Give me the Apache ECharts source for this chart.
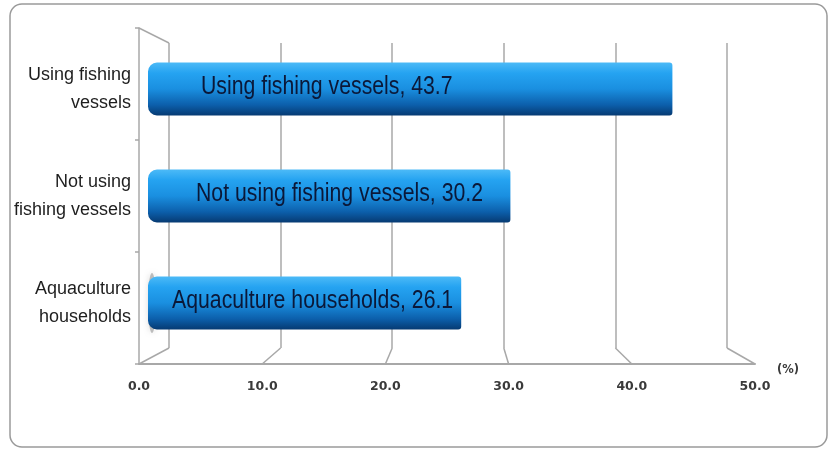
<!DOCTYPE html>
<html>
<head>
<meta charset="utf-8">
<script src="https://cdn.jsdelivr.net/npm/echarts@6/dist/echarts.min.js"></script>
<style>html,body{margin:0;padding:0;background:#fff}#c{width:830px;height:450px}</style>
</head>
<body>
<div id="c"></div>
<script>
// ---- data ----
var categories = ['Using fishing vessels', 'Not using fishing vessels', 'Aquaculture households'];
var categoryTickLabels = ['Using fishing\nvessels', 'Not using\nfishing vessels', 'Aquaculture\nhouseholds'];
var values = [43.7, 30.2, 26.1];
var xTicks = [0, 10, 20, 30, 40, 50];
var unitLabel = '(%)';
// label inset inside each bar (style only)
var labelInset = [53, 48, 24];

var chart = echarts.init(document.getElementById('c'), null, {renderer: 'canvas'});

var barGradient = new echarts.graphic.LinearGradient(0, 0, 0, 1, [
  {offset: 0, color: '#4cbaf7'},
  {offset: 0.2, color: '#25a3f1'},
  {offset: 0.5, color: '#1a8fe0'},
  {offset: 0.8, color: '#0c5fab'},
  {offset: 1, color: '#063a72'}
]);

var gridColor = '#a8a8a8';

var option = {
  animation: false,
  backgroundColor: '#fff',
  grid: [
    {left: 148, width: 600, top: 35.5, height: 321},   // bars
    {left: 139, width: 616, top: 28, height: 336},     // front floor axis
    {left: 169, width: 558, top: 43, height: 305}      // back wall
  ],
  xAxis: [
    {gridIndex: 0, type: 'value', min: 0, max: 50, interval: 10, show: false},
    {gridIndex: 1, type: 'value', min: 0, max: 50, interval: 10,
      axisLine: {show: true, lineStyle: {color: gridColor, width: 2}},
      axisTick: {show: false},
      splitLine: {show: false},
      axisLabel: {margin: 16, color: '#3a3a3a', fontFamily: 'DejaVu Sans', fontWeight: 'bold', fontSize: 12.5,
        formatter: function (v) { return v.toFixed(1); }},
      name: unitLabel, nameLocation: 'end', nameGap: 22,
      nameTextStyle: {color: '#3a3a3a', fontFamily: 'DejaVu Sans', fontWeight: 'bold', fontSize: 11.5, verticalAlign: 'top', align: 'left'}
    },
    {gridIndex: 2, type: 'value', min: 0, max: 50, interval: 10,
      axisLine: {show: false}, axisTick: {show: false}, axisLabel: {show: false},
      splitLine: {show: true, lineStyle: {color: gridColor, width: 1.5}}
    }
  ],
  yAxis: [
    {gridIndex: 0, type: 'category', data: categoryTickLabels, inverse: true,
      axisLine: {show: false}, axisTick: {show: false},
      axisLabel: {margin: 17, color: '#1e1e1e', fontFamily: 'Liberation Sans', fontSize: 18, lineHeight: 28, align: 'right'}
    },
    {gridIndex: 1, type: 'category', data: categories, inverse: true,
      axisLine: {show: true, lineStyle: {color: gridColor, width: 1.5}},
      axisTick: {show: true, length: 4, lineStyle: {color: gridColor, width: 1.5}},
      axisLabel: {show: false}
    },
    {gridIndex: 2, type: 'category', data: categories, show: false}
  ],
  series: [{
    type: 'bar',
    xAxisIndex: 0, yAxisIndex: 0,
    barWidth: 53,
    data: values,
    itemStyle: {color: barGradient, borderRadius: [9, 3, 3, 9]},
    z: 2
  }, {
    // condensed in-bar labels
    type: 'custom',
    xAxisIndex: 0, yAxisIndex: 0,
    z: 3,
    data: values.map(function (v, i) { return [v, i]; }),
    renderItem: function (params, api) {
      var i = params.dataIndex;
      var p = api.coord([0, api.value(1)]);
      return {
        type: 'text',
        x: p[0] + labelInset[i],
        y: p[1] - 2,
        scaleX: 0.85,
        style: {
          text: categories[i] + ', ' + api.value(0),
          fill: '#0b1838',
          font: '25px "Liberation Sans", Arial, sans-serif',
          textAlign: 'left',
          textVerticalAlign: 'middle',
          verticalAlign: 'middle'
        }
      };
    }
  }]
};
chart.setOption(option);

// perspective decorations derived from the axes
var gBackTop = 43, gBackBottom = 348, gFrontTop = 28, gFrontBottom = 364;
var graphics = [];
xTicks.forEach(function (t) {
  var xb = chart.convertToPixel({xAxisIndex: 2}, t);
  var xf = chart.convertToPixel({xAxisIndex: 1}, t);
  graphics.push({type: 'line', shape: {x1: xb, y1: gBackBottom, x2: xf, y2: gFrontBottom},
    style: {stroke: gridColor, lineWidth: 1.5}, z: 1});
});
var xb0 = chart.convertToPixel({xAxisIndex: 2}, 0);
var xf0 = chart.convertToPixel({xAxisIndex: 1}, 0);
graphics.push({type: 'line', shape: {x1: xf0, y1: gFrontTop, x2: xb0, y2: gBackTop},
  style: {stroke: gridColor, lineWidth: 1.5}, z: 1});
// rounded outer frame
graphics.push({type: 'rect', shape: {x: 10, y: 4, width: 817, height: 443, r: 12},
  style: {fill: 'none', stroke: '#9a9a9a', lineWidth: 1.5}, z: 0});
// soft shadow behind the lowest bar's cap
var yb = chart.convertToPixel({yAxisIndex: 0}, categoryTickLabels[2]);
graphics.push({type: 'ellipse', shape: {cx: 152, cy: yb, rx: 4, ry: 30},
  style: {fill: 'rgba(120,120,120,0.45)', shadowBlur: 6, shadowColor: 'rgba(120,120,120,0.6)'}, z: 2});
chart.setOption({graphic: graphics});
</script>
</body>
</html>
